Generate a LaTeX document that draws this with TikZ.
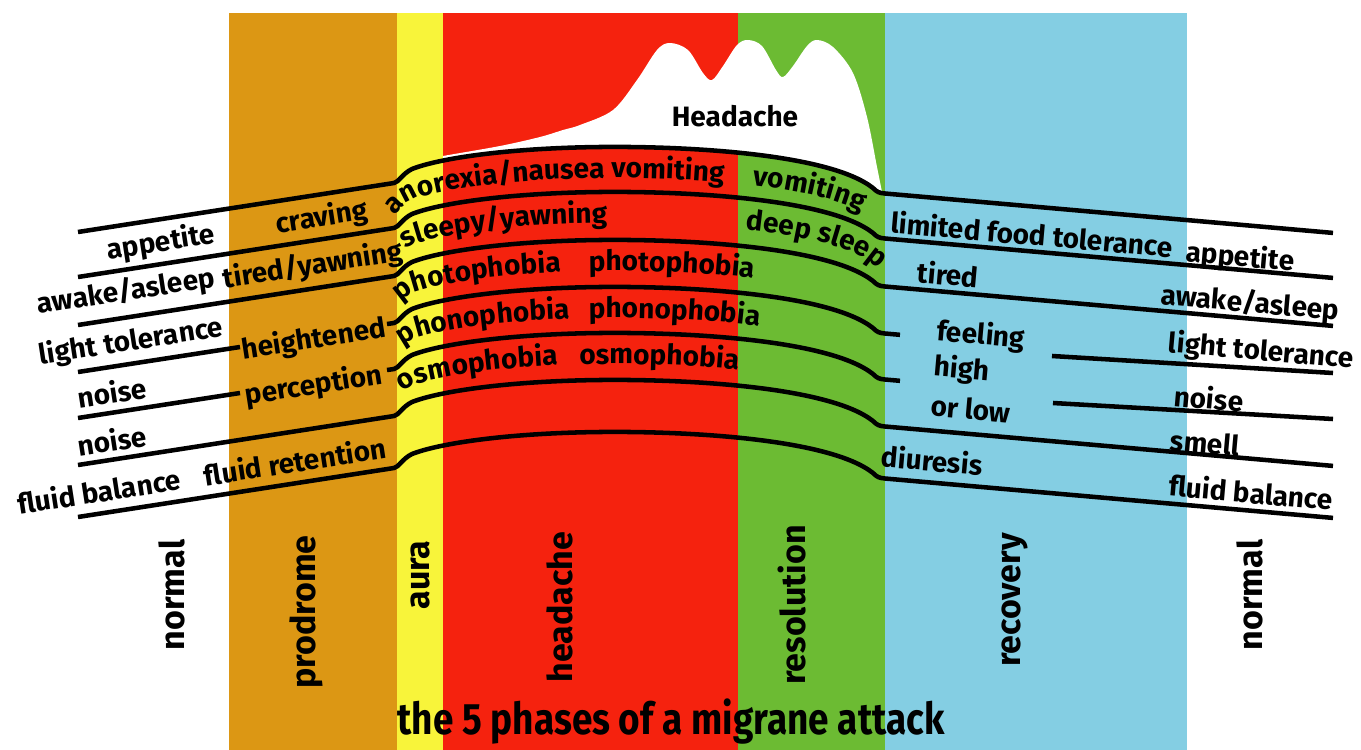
\documentclass[tikz,border=0pt]{standalone}
\usepackage{fontspec}
\setmainfont{Fira Sans}
\usetikzlibrary{decorations.text}
\definecolor{cprod}{HTML}{DC9714}
\definecolor{caura}{HTML}{F8F43A}
\definecolor{chead}{HTML}{F5220E}
\definecolor{cres}{HTML}{6CBB33}
\definecolor{crec}{HTML}{84CEE3}
\newcommand\lblfont{\bfseries\fontsize{21}{21}\selectfont}
\newcommand\vlblfont{\bfseries\fontsize{25.5}{25.5}\selectfont}
\newcommand\ttlfont{\bfseries\fontsize{33}{33}\selectfont}
\tikzset{
 ln/.style={line width=3.4pt},
 lbl/.style={font=\lblfont, inner sep=0pt},
 lft/.style={lbl, rotate=8.8},
 rgt/.style={lbl, rotate=-5},
 vlbl/.style={font=\vlblfont, inner sep=0pt, rotate=90},
 arcrest/.style 2 args={insert path={-- (394,{#1-49}) .. controls (399,{#1-50}) and (402,{#1-58}) .. (412,{#1-63}) .. controls (440,{#1-74}) and (510,{#1-84}) .. (600,{#1-85}) .. controls (690,{#1-86}) and (830,{#1-78}) .. (873,{#1-44}) .. controls (877,{#1-40}) and (879,{#1-39}) .. (885,{#1-38.5}) -- (#2,{#1-38.5+(#2-885)*0.088})}},
 arctext/.style 2 args={decorate, decoration={text along path, text={|\lblfont|#1}, text align={left indent=#2}}}
}
\begin{document}
\begin{tikzpicture}[x=0.75pt,y=-0.75pt]
\useasboundingbox (0,0) rectangle (1361,750);
\fill[cprod] (229,13) rectangle (397,750);
\fill[caura] (397,13) rectangle (443,750);
\fill[chead] (443,13) rectangle (738,750);
\fill[cres] (738,13) rectangle (885,750);
\fill[crec] (885,13) rectangle (1187,750);
\begin{scope}
\clip (443,0) rectangle (900,750);
\fill[white] (412,169) .. controls (440,158) and (510,148) .. (600,147) .. controls (690,146) and (830,154) .. (873,188) .. controls (877,192) and (879,193) .. (885,193.5) -- plot[smooth, tension=0.55] coordinates {(882,192) (877,167) (867,117) (853,73) (833,47) (817,40) (807,46) (793,66) (783,77) (776,70) (762,46) (748,40) (737,45) (723,66) (712,80) (703,73) (688,50) (670,43) (657,50) (637,80) (613,110) (580,125) (563,130) (540,137) (500,146) (443,156) (412,162)} -- cycle;
\end{scope}
% lines
\draw[ln] (78,232) [arcrest={232}{1333}];
\draw[ln] (78,277) [arcrest={277}{1333}];
\draw[ln] (78,325) [arcrest={325}{1333}];
\draw[ln] (78,372) -- (240,347);
\draw[ln] (387,324) [arcrest={372}{900}];
\draw[ln] (1052,356) -- (1333,373);
\draw[ln] (78,418) -- (240,393);
\draw[ln] (387,370) [arcrest={418}{900}];
\draw[ln] (1053,403) -- (1333,419);
\draw[ln] (78,465) [arcrest={465}{1333}];
\draw[ln] (78,517) [arcrest={517}{1333}];
% arc texts
\path[arctext={anorexia/nausea vomiting}{10pt}] (380,216.2) [arcrest={263}{1333}];
\path[arctext={vomiting}{285pt}] (380,216.2) [arcrest={263}{1333}];
\path[arctext={sleepy/yawning}{22pt}] (380,261.2) [arcrest={308}{1333}];
\path[arctext={deep sleep}{280pt}] (380,261.2) [arcrest={308}{1333}];
\path[arctext={photophobia}{17pt}] (380,309.2) [arcrest={356}{1333}];
\path[arctext={photophobia}{162pt}] (380,309.2) [arcrest={356}{1333}];
\path[arctext={phonophobia}{19.5pt}] (380,356.2) [arcrest={403}{1333}];
\path[arctext={phonophobia}{162pt}] (380,356.2) [arcrest={403}{1333}];
\path[arctext={osmophobia}{19.5pt}] (380,402.2) [arcrest={449}{1333}];
\path[arctext={osmophobia}{155pt}] (380,402.2) [arcrest={449}{1333}];
% left labels
\node[lft] (lapp) at (161,243) {appetite};
\node[lft] (lcrav) at (322,218) {craving};
\node[lft] (lawake) at (126,292) {awake/asleep};
\node[lft] (ltired) at (313,266) {tired/yawning};
\node[lft] (llight) at (131,342) {light tolerance};
\node[lft] (lheight) at (314,340) {heightened};
\node[lft] (lnoise) at (112,392) {noise};
\node[lft] (lperc) at (314,386) {perception};
\node[lft] (lnoise2) at (112,440) {noise};
\node[lft] (lfluid) at (99,491) {fluid balance};
\node[lft] (lret) at (295,461) {fluid retention};
% right labels
\node[rgt] (rlim) at (1032,234) {limited food tolerance};
\node[rgt] (rapp) at (1240,258) {appetite};
\node[rgt] (rtired) at (948,274) {tired};
\node[rgt] (rawake) at (1250,304) {awake/asleep};
\node[rgt] (rfeel) at (981,336) {feeling};
\node[rgt] (rhigh) at (962,370) {high};
\node[rgt] (rlow) at (971,409) {or low};
\node[rgt] (rlight) at (1261,352) {light tolerance};
\node[rgt] (rnoise) at (1209,398) {noise};
\node[rgt] (rsmell) at (1205,443) {smell};
\node[rgt] (rfluid) at (1251,492) {fluid balance};
\node[rgt] (rdiur) at (932,460) {diuresis};
\node[lbl] (hd) at (735,116) {Headache};
% phases
\node[vlbl] (pnorm1) at (172,595) {normal};
\node[vlbl] (pprod) at (306,612) {prodrome};
\node[vlbl] (paura) at (420,575) {aura};
\node[vlbl] (phead) at (560,607) {headache};
\node[vlbl] (pres) at (792,605) {resolution};
\node[vlbl] (prec) at (1015,600) {recovery};
\node[vlbl] (pnorm2) at (1250,595) {normal};
\node[font=\ttlfont, inner sep=0pt, xscale=0.84] (ttl) at (671,722) {the 5 phases of a migrane attack};
\end{tikzpicture}
\end{document}
